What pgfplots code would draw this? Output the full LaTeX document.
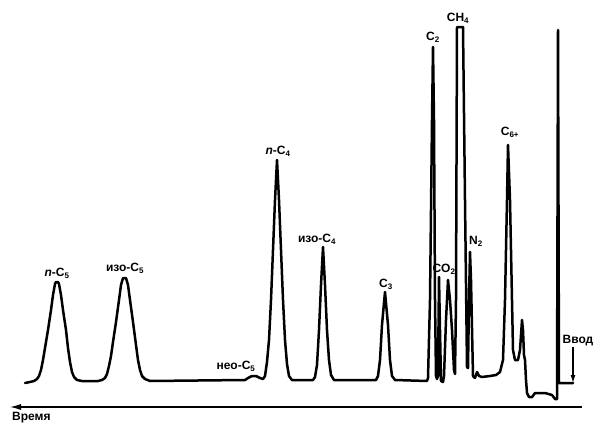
\documentclass[border=0pt]{standalone}
\usepackage{pgfplots}
\pgfplotsset{compat=1.18}
\usetikzlibrary{arrows.meta}
\usepackage{fontspec}
\setmainfont{Liberation Sans}
\tikzset{lbl/.style={font=\bfseries\fontsize{12}{14}\selectfont, inner sep=0pt}}
\begin{document}
\begin{tikzpicture}
\begin{axis}[
    scale only axis,
    width=603pt, height=434pt,
    xmin=0, xmax=603,
    ymin=0, ymax=434,
    y dir=reverse,
    hide axis,
    clip=false,
]
% хроматограмма (координаты в пикселях исходника)
\addplot[black, line width=2.5pt, line join=round, line cap=round] coordinates {
    (25,383) (30,382) (34,381) (37,379) (39,376) (41,370) (43,360) (45,348)
    (48,330) (51,310) (53,295) (55,284) (56,282) (58,282) (59,284) (61,295)
    (63,310) (66,330) (68,348) (70,362) (72,372) (74,377) (77,380) (82,381)
    (98,381) (102,380) (105,378) (107,374) (109,366) (111,356) (113,342)
    (116,322) (119,300) (121,285) (123,278) (126,278) (128,285) (130,300)
    (133,322) (136,345) (138,360) (140,370) (142,376) (145,379) (150,381)
    (245,380) (248,378) (252,376) (256,376) (260,378) (263,379) (265,376)
    (267,362) (269,340) (271,300) (273,250) (275,200) (277,160) (279,200)
    (281,250) (283,300) (285,340) (287,364) (289,376) (292,380) (313,380)
    (315,377) (317,365) (319,330) (321,285) (323,247) (325,285) (327,330)
    (329,360) (331,375) (334,380) (376,380) (378,376) (380,360) (382,325)
    (385,292) (388,325) (390,360) (392,376) (395,380) (427,381)
    (428,378) (430,300) (432,120) (433,47) (434,120) (435,300) (436,376)
    (437,379) (438,376) (439,277) (440,330) (441,381) (443,382) (444,376)
    (446,320) (448,280) (450,300) (452,330) (454,370) (455,374) (456,300)
    (457,27) (463,27) (465,200) (467,367) (468,368) (469,300) (470,252)
    (471,280) (473,376) (475,378) (477,372) (479,376) (482,377) (490,376)
    (496,375) (500,372) (503,360) (505,300) (507,200) (508,145) (510,200)
    (512,300) (513,350) (515,360) (518,360) (520,350) (522,320) (523,330)
    (524,355) (525,360) (526,380) (527,393) (529,397) (532,397) (535,393)
    (545,393) (552,395) (555,399) (557,399) (558,30) (559,383) (573,383)
};
% ось времени
\addplot[black, line width=1.2pt, -{Latex[length=11pt,width=6pt]}] coordinates {(582,407) (10,407)};
% ввод
\addplot[black, line width=1.2pt, -{Latex[length=8pt,width=5pt]}] coordinates {(573,347) (573,383)};

\node[lbl] at (axis cs:57,273) {\textit{n}-C\textsubscript{5}};
\node[lbl] at (axis cs:125,268) {изо-C\textsubscript{5}};
\node[lbl] at (axis cs:236,366) {нео-C\textsubscript{5}};
\node[lbl] at (axis cs:278,151) {\textit{n}-C\textsubscript{4}};
\node[lbl] at (axis cs:317,239) {изо-C\textsubscript{4}};
\node[lbl] at (axis cs:386,284) {C\textsubscript{3}};
\node[lbl] at (axis cs:433,37) {C\textsubscript{2}};
\node[lbl] at (axis cs:458,18) {CH\textsubscript{4}};
\node[lbl] at (axis cs:444,269) {CO\textsubscript{2}};
\node[lbl] at (axis cs:476,241) {N\textsubscript{2}};
\node[lbl] at (axis cs:510,132) {C\textsubscript{6+}};
\node[lbl] at (axis cs:578,341) {Ввод};
\node[lbl, anchor=west] at (axis cs:12,418) {Время};

\coordinate (bl) at (axis cs:0,434);
\coordinate (tr) at (axis cs:603,0);
\end{axis}
\pgfresetboundingbox
\path (bl) rectangle (tr);
\end{tikzpicture}
\end{document}
